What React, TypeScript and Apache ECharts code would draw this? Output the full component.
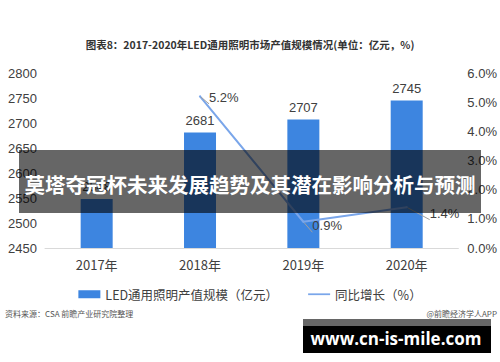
import React, { useEffect, useRef } from "react";
import * as echarts from "echarts";

const categories = ["2017年", "2018年", "2019年", "2020年"];
const scaleValues = [2548, 2681, 2707, 2745];
const growthValues: (number | string)[] = ["-", 5.2, 0.9, 1.4];
const barName = "LED通用照明产值规模（亿元）";
const lineName = "同比增长（%）";
const chartTitle = "图表8：2017-2020年LED通用照明市场产值规模情况(单位：亿元，%)";
const sourceText = "资料来源：CSA 前瞻产业研究院整理";
const appText = "@前瞻经济学人APP";
const bannerText = "莫塔夺冠杯未来发展趋势及其潜在影响分析与预测";
const siteText = "www.cn-is-mile.com";

const FONT = "'Noto Sans CJK SC', 'Noto Sans', sans-serif";
const NUMFONT = "'Liberation Sans', 'Noto Sans CJK SC', sans-serif";
const LINE_COLOR = "#7aa6ea";

// label placement tweaks per point (styling only)
const labelOffsets = [[0, 0], [0, 1], [0, 4], [14, 6]];

export default function App() {
  const ref = useRef<HTMLDivElement>(null);
  useEffect(() => {
    document.body.style.margin = "0";
    if (!ref.current) return;
    const chart = echarts.init(ref.current, undefined, { renderer: "svg" });
    const lineData = growthValues.map((v, i) => ({
      value: v,
      label: { offset: labelOffsets[i] },
    }));
    chart.setOption({
      animation: false,
      backgroundColor: "#ffffff",
      textStyle: { fontFamily: FONT },
      grid: { left: 45, right: 41, top: 73, height: 175 },
      legend: {
        top: 283,
        left: "center",
        itemGap: 30,
        itemWidth: 22,
        itemHeight: 8,
        textStyle: { fontSize: 12.5, color: "#404040", fontFamily: FONT },
        data: [
          { name: barName, icon: "rect" },
          {
            name: lineName,
            icon: "path://M0,0 H25 V2 H0 Z",
            itemStyle: { color: LINE_COLOR, opacity: 1 },
          },
        ],
      },
      xAxis: {
        type: "category",
        data: categories,
        axisLine: { lineStyle: { color: "#d9d9d9" } },
        axisTick: { show: false },
        axisLabel: { color: "#404040", fontSize: 13, margin: 10, fontFamily: FONT },
      },
      yAxis: [
        {
          type: "value",
          min: 2450,
          max: 2800,
          interval: 50,
          splitLine: { show: false },
          axisLine: { show: false },
          axisTick: { show: false },
          axisLabel: {
            color: "#404040",
            fontSize: 13,
            margin: 8,
            fontFamily: NUMFONT,
            formatter: (v: number) => String(v),
          },
        },
        {
          type: "value",
          min: 0,
          max: 6,
          interval: 1,
          splitLine: { show: false },
          axisLine: { show: false },
          axisTick: { show: false },
          axisLabel: {
            color: "#404040",
            fontSize: 13,
            margin: 9,
            fontFamily: NUMFONT,
            formatter: (v: number) => v.toFixed(1) + "%",
          },
        },
      ],
      series: [
        {
          name: barName,
          type: "bar",
          data: scaleValues,
          barWidth: 32,
          itemStyle: { color: "#3d85e0" },
          label: {
            show: true,
            position: "top",
            distance: 6,
            color: "#404040",
            fontSize: 13,
            fontFamily: NUMFONT,
          },
        },
        {
          name: lineName,
          type: "line",
          yAxisIndex: 1,
          data: lineData,
          showSymbol: true,
          symbol: "circle",
          symbolSize: 2,
          lineStyle: { color: LINE_COLOR, width: 2 },
          itemStyle: { color: LINE_COLOR },
          label: {
            show: true,
            position: "right",
            distance: 8,
            color: "#404040",
            fontSize: 13,
            fontFamily: NUMFONT,
            formatter: (p: any) =>
              typeof p.value === "number" ? p.value.toFixed(1) + "%" : "",
          },
          labelLine: { show: true, lineStyle: { color: "#a0a0a0", width: 1 } },
        },
      ],
      graphic: [
        {
          type: "text",
          left: "center",
          top: 39,
          style: {
            text: chartTitle,
            fontSize: 10.5,
            fontWeight: "bold",
            fill: "#333333",
            fontFamily: FONT,
          },
        },
        {
          type: "text",
          left: 5,
          top: 309,
          style: { text: sourceText, fontSize: 8, fill: "#555555", fontFamily: FONT },
        },
        {
          type: "text",
          right: 3,
          top: 309,
          style: { text: appText, fontSize: 8, fill: "#555555", fontFamily: FONT },
        },
        {
          type: "rect",
          z: 100,
          shape: { x: 19, y: 150, width: 462, height: 63 },
          style: { fill: "rgba(0,0,0,0.6)" },
        },
        {
          type: "text",
          z: 101,
          x: 250,
          y: 184,
          style: {
            text: bannerText,
            fontSize: 20.5,
            fontWeight: "bold",
            fill: "#ffffff",
            align: "center",
            verticalAlign: "middle",
            fontFamily: FONT,
          },
        },
        {
          type: "rect",
          z: 100,
          shape: { x: 303, y: 319, width: 188, height: 7 },
          style: { fill: "#666666" },
        },
        {
          type: "rect",
          z: 100,
          shape: { x: 303, y: 326, width: 188, height: 27 },
          style: { fill: "#000000" },
        },
        {
          type: "text",
          z: 101,
          x: 396,
          y: 338,
          style: {
            text: siteText,
            fontSize: 17,
            fontWeight: "bold",
            fill: "#ffffff",
            align: "center",
            verticalAlign: "middle",
            fontFamily: "'Open Sans', 'DejaVu Sans', sans-serif",
          },
        },
      ],
    });
    return () => chart.dispose();
  }, []);
  return <div ref={ref} style={{ width: 500, height: 362 }} />;
}
